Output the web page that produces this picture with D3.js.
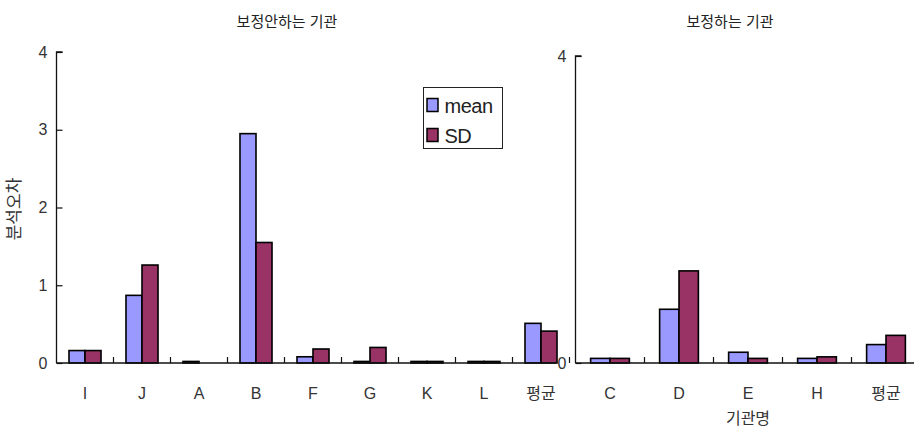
<!DOCTYPE html>
<html>
<head>
<meta charset="utf-8">
<script src="https://cdn.jsdelivr.net/npm/d3@7/dist/d3.min.js"></script>
<style>
  body { margin: 0; background: #fff; }
  text { font-family: "Liberation Sans", "Noto Sans CJK KR", sans-serif; fill: #222; }
</style>
</head>
<body>
<svg id="chart" width="914" height="432"></svg>
<script>
// ---- data ----
const seriesNames = ["mean", "SD"];
const seriesColors = ["#9999FF", "#993366"];

const leftTitle = "보정안하는 기관";
const leftCategories = ["I", "J", "A", "B", "F", "G", "K", "L", "평균"];
const leftMean = [0.16, 0.87, 0.02, 2.95, 0.08, 0.02, 0.02, 0.02, 0.51];
const leftSD   = [0.16, 1.26, 0.00, 1.55, 0.18, 0.20, 0.02, 0.02, 0.41];
const leftTicks = [0, 1, 2, 3, 4];

const rightTitle = "보정하는 기관";
const rightCategories = ["C", "D", "E", "H", "평균"];
const rightMean = [0.06, 0.70, 0.14, 0.06, 0.24];
const rightSD   = [0.06, 1.20, 0.06, 0.08, 0.36];
const rightTicks = [0, 4];

const yLabel = "분석오차";
const xLabel = "기관명";

// ---- drawing ----
const svg = d3.select("#chart");

function panel(cfg) {
  const g = svg.append("g");
  const x = d3.scaleBand().domain(cfg.categories).range(cfg.xRange).padding(0);
  const y = d3.scaleLinear().domain([0, 4]).range(cfg.yRange);
  const sub = d3.scaleBand().domain(seriesNames).range([0, x.bandwidth()]).paddingInner(0).paddingOuter(0.78);
  const rows = cfg.categories.map((c, i) => ({ cat: c, vals: [cfg.mean[i], cfg.sd[i]] }));

  // bars
  const grp = g.selectAll("g.cat").data(rows).join("g")
    .attr("transform", d => `translate(${x(d.cat)},0)`);
  grp.selectAll("rect").data(d => d.vals.map((v, k) => ({ v, k })).filter(o => o.v > 0)).join("rect")
    .attr("x", o => sub(seriesNames[o.k]))
    .attr("width", sub.bandwidth())
    .attr("y", o => y(o.v))
    .attr("height", o => y(0) - y(o.v))
    .attr("fill", o => seriesColors[o.k])
    .attr("stroke", "#000")
    .attr("stroke-width", 1.6);

  // y axis
  const x0 = cfg.xRange[0];
  const yAxis = d3.axisRight(y).tickValues(cfg.ticks).tickSize(6).tickFormat(d3.format("d"));
  const ya = g.append("g").attr("transform", `translate(${x0},0)`).call(yAxis);
  ya.select(".domain").attr("stroke", "#111").attr("stroke-width", 1.3).attr("d", `M6,${y(4)}H0V${y(0)}`);
  ya.selectAll(".tick line").attr("stroke", "#111").attr("stroke-width", 1.2);
  ya.selectAll(".tick text").attr("x", cfg.tickLabelDx).attr("text-anchor", "end")
    .attr("font-size", 16).style("fill", "#333");

  // x axis
  const xa = g.append("g").attr("transform", `translate(0,${y(0)})`);
  xa.append("line").attr("x1", x0).attr("x2", cfg.xAxisEnd).attr("y1", 0).attr("y2", 0)
    .attr("stroke", "#111").attr("stroke-width", 1.3);
  const bounds = d3.range(1, cfg.categories.length + 1).map(i => x0 + i * x.step()).filter(v => v < 914);
  xa.selectAll("line.tk").data(bounds).join("line").attr("class", "tk")
    .attr("x1", d => d).attr("x2", d => d).attr("y1", 0).attr("y2", -6)
    .attr("stroke", "#111").attr("stroke-width", 1.2);
  xa.selectAll("text").data(cfg.categories).join("text")
    .attr("x", d => x(d) + x.bandwidth() / 2).attr("y", 36)
    .attr("text-anchor", "middle").attr("font-size", 16).style("fill", "#333")
    .text(d => d);

  // title
  g.append("text").attr("x", cfg.titleX).attr("y", 27).attr("text-anchor", "middle")
    .attr("font-size", 15).text(cfg.title);
  return { x, y };
}

panel({
  categories: leftCategories, mean: leftMean, sd: leftSD, ticks: leftTicks,
  xRange: [56.5, 569.5], yRange: [363, 52], xAxisEnd: 556, tickLabelDx: -9,
  title: leftTitle, titleX: 287
});

panel({
  categories: rightCategories, mean: rightMean, sd: rightSD, ticks: rightTicks,
  xRange: [575.5, 920.5], yRange: [363, 56], xAxisEnd: 914, tickLabelDx: -9,
  title: rightTitle, titleX: 730
});

// y-axis label
svg.append("text").attr("transform", "translate(20,209) rotate(-90)")
  .attr("text-anchor", "middle").attr("font-size", 17).style("fill", "#333").text(yLabel);

// x-axis label
svg.append("text").attr("x", 748).attr("y", 424).attr("text-anchor", "middle")
  .attr("font-size", 16).style("fill", "#333").text(xLabel);

// legend
const lg = svg.append("g").attr("transform", "translate(423.5,87.5)");
lg.append("rect").attr("width", 79).attr("height", 61).attr("fill", "#fff")
  .attr("stroke", "#222").attr("stroke-width", 1);
seriesNames.forEach((s, i) => {
  lg.append("rect").attr("x", 3.5).attr("y", 11 + i * 30).attr("width", 11).attr("height", 13)
    .attr("fill", seriesColors[i]).attr("stroke", "#000").attr("stroke-width", 1.5);
  lg.append("text").attr("x", 21).attr("y", 25 + i * 30).attr("font-size", 20)
    .style("letter-spacing", "-0.5px").text(s);
});
</script>
</body>
</html>
